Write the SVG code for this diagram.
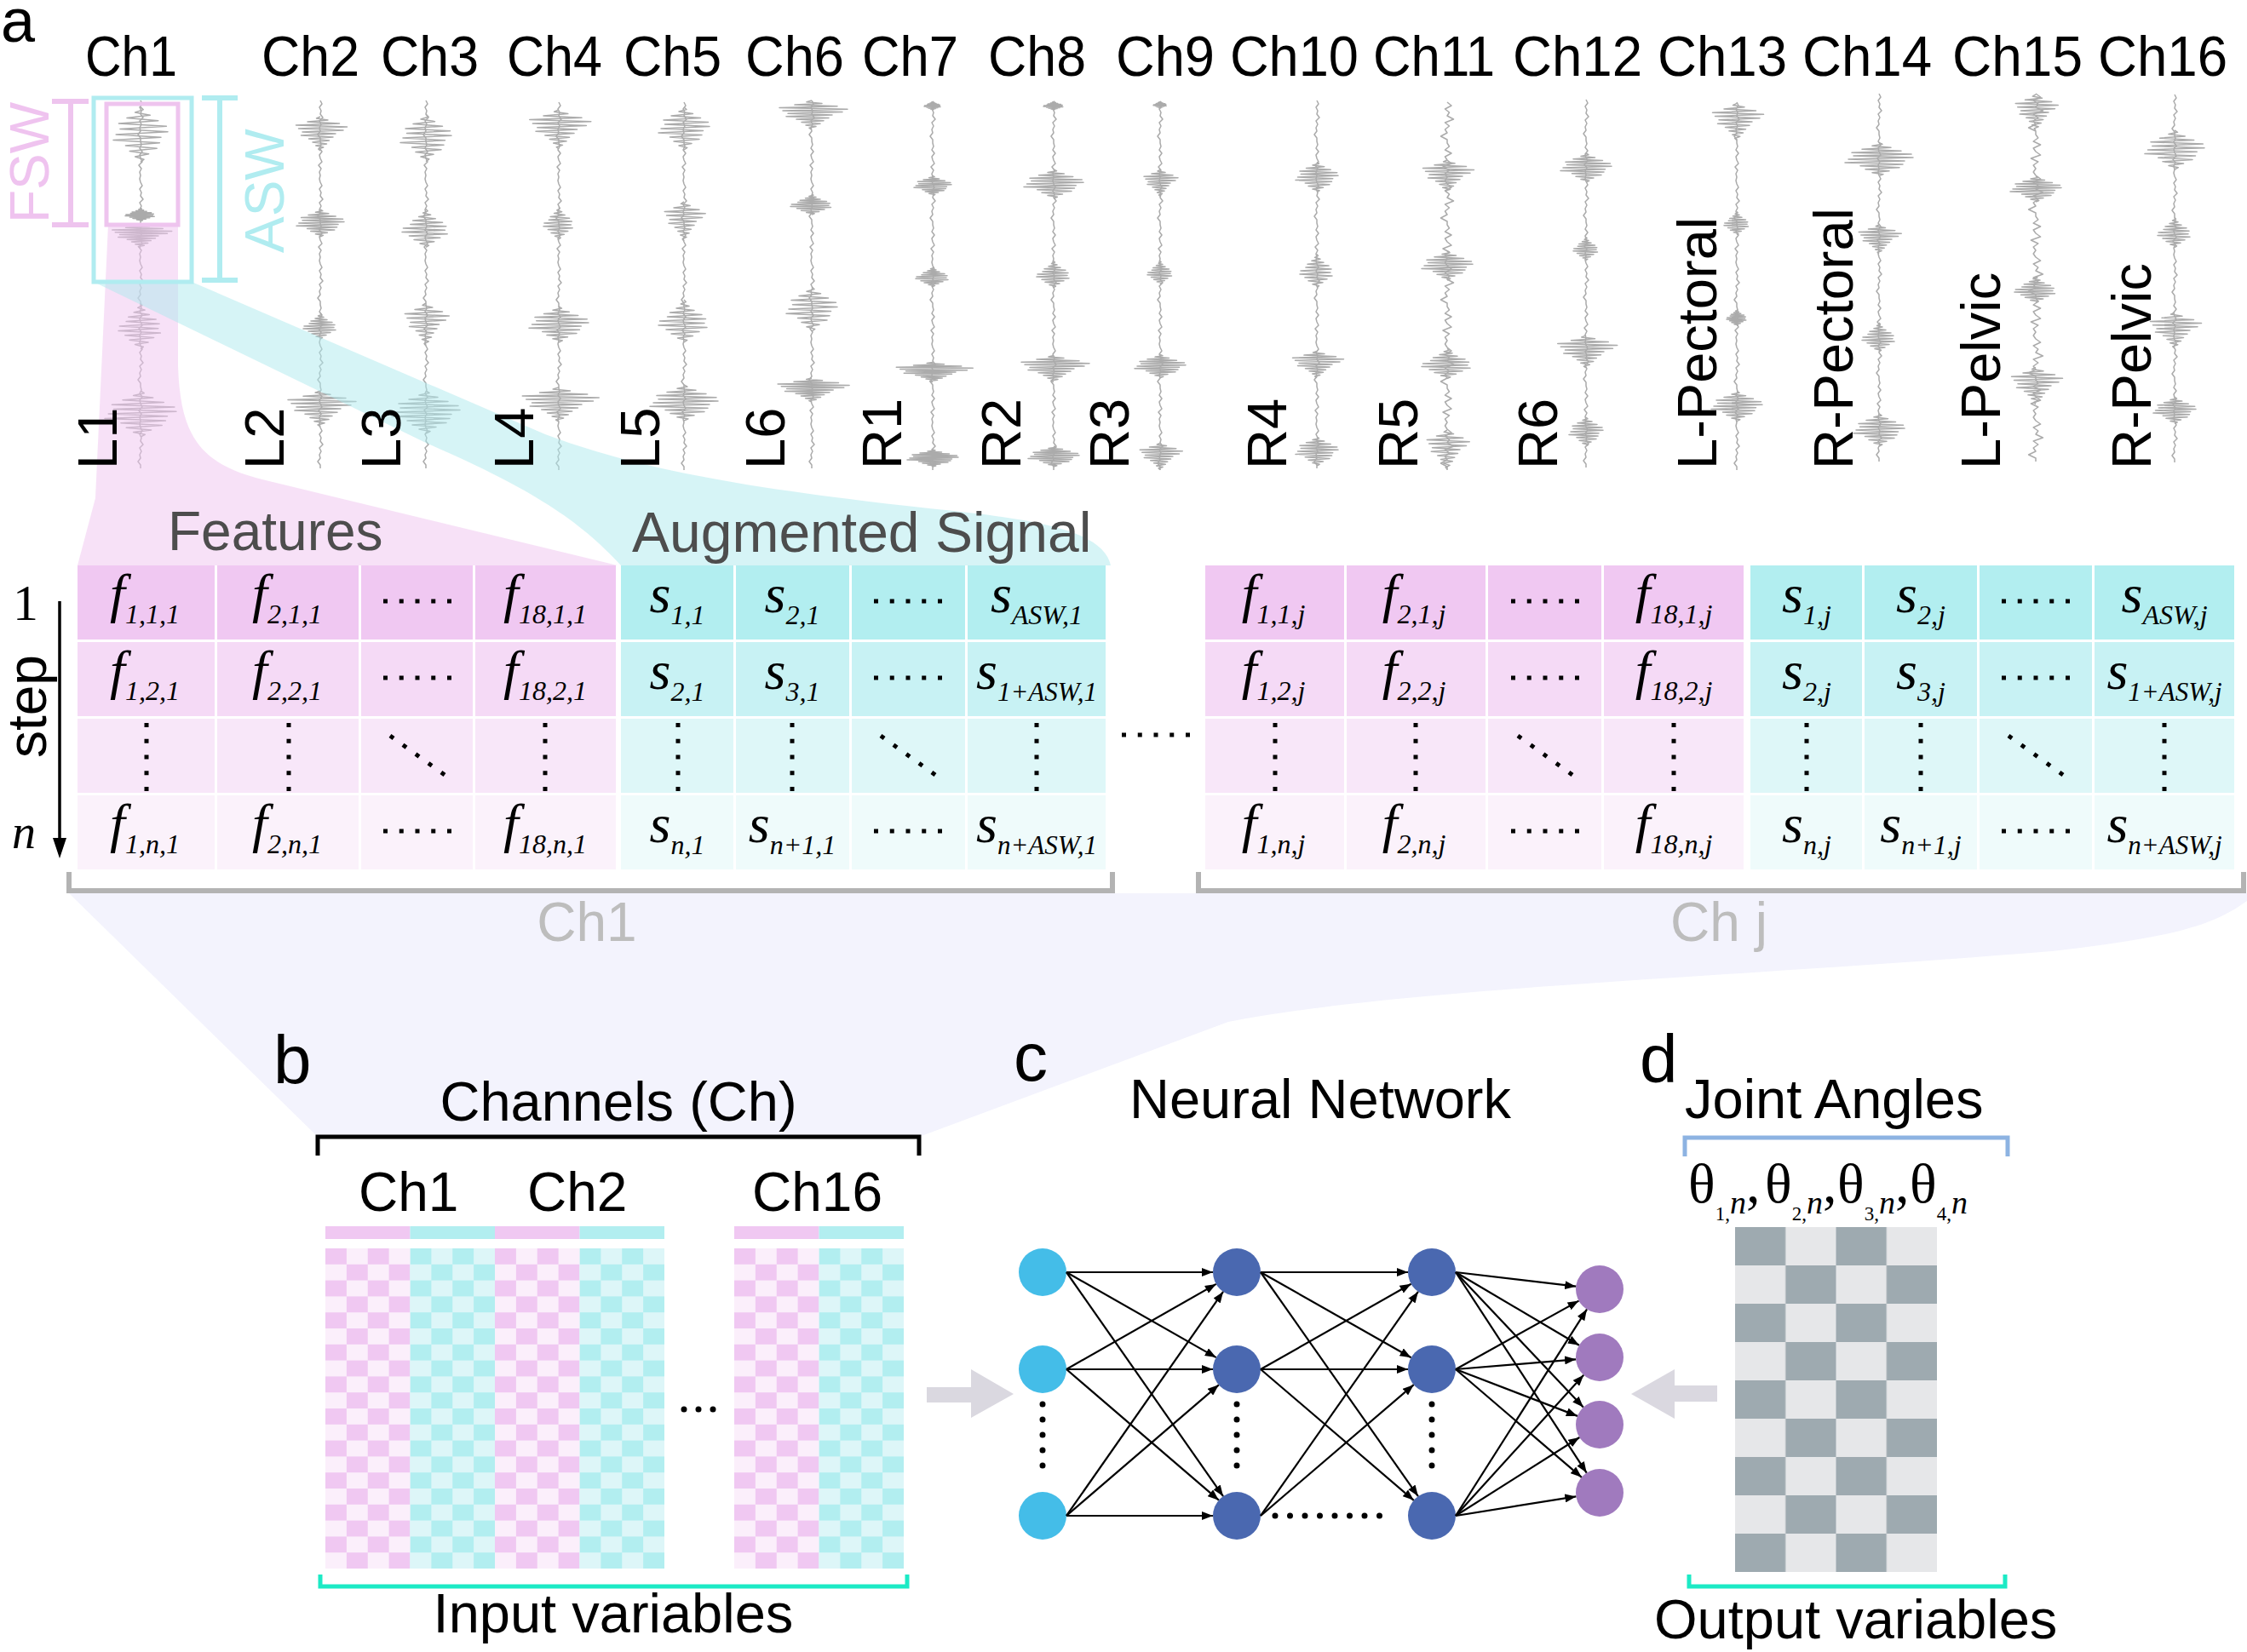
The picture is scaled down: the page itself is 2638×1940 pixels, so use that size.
<svg xmlns="http://www.w3.org/2000/svg" width="2638" height="1940" viewBox="0 0 2638 1940">
<style>
.t{font-family:"Liberation Sans",Arial,sans-serif;fill:#000}
.ch{font-size:67px}
.rl{font-size:65px}
.pl{font-size:80px}
.hd{font-size:65px}
.w{fill:none;stroke:#ABABAB;stroke-width:1.5;stroke-linejoin:round;vector-effect:non-scaling-stroke}
.m{font-family:"Liberation Serif","Times New Roman",serif;font-style:italic;font-size:64px;fill:#000}
.sb{font-size:32px}
.sl{font-size:31px}
.p1{fill:#F0C8F2}.p2{fill:#F5DAF6}.p3{fill:#F8E7F9}.p4{fill:#FBF2FB}
.c1{fill:#B2EEF0}.c2{fill:#C8F2F4}.c3{fill:#DEF7F8}.c4{fill:#EFFBFB}
.dt{stroke:#000;stroke-width:5;stroke-dasharray:5 13.75;fill:none}
.dd{stroke:#000;stroke-width:5;stroke-dasharray:5 13.45;fill:none}
.sep{stroke:#fff;stroke-width:3;fill:none}
.e{stroke:#000;stroke-width:2.2;fill:none;marker-end:url(#ah)}
.nd{stroke:#000;stroke-width:7;stroke-linecap:round;fill:none}
.br{fill:none;stroke-width:5}
.th{font-family:"Liberation Serif","Times New Roman",serif;font-size:66px;fill:#000}
</style>
<defs>
<marker id="ah" markerUnits="userSpaceOnUse" markerWidth="14" markerHeight="10" refX="13" refY="5" orient="auto"><path d="M0,0 L13,5 L0,10 Z" fill="#000"/></marker>
<path id="nz" class="w" d="M0,0 l2,4 -3,4 2,4 -1,4 3,4 -4,4 2,4 -2,4 1,4 -3,4 3,4 0,4 1,4 -2,4 3,4 -3,4 1,4 2,4 -4,4 3,4 -2,4 1,4 -1,4 1,4 2,4 -3,4 2,4 -1,4 3,4 -4,4 2,4 -2,4 1,4 -3,4 3,4 0,4 1,4 -2,4 3,4 -3,4 1,4 2,4 -4,4 3,4 -2,4 1,4 -1,4 1,4 2,4 -3,4 2,4 -1,4 3,4 -4,4 2,4 -2,4 1,4 -3,4 3,4 0,4 1,4 -2,4 3,4 -3,4 1,4 2,4 -4,4 3,4 -2,4 1,4 -1,4 1,4 2,4 -3,4 2,4 -1,4 3,4 -4,4 2,4 -2,4 1,4 -3,4 3,4 0,4 1,4 -2,4 3,4 -3,4 1,4 2,4 -4,4 3,4 -2,4 1,4 -1,4 1,4 2,4 -3,4 2,4 -1,4 3,4 -4,4 2,4 -2,4 1,4 -3,4 3,4 0,4"/>
<path id="bA" class="w" d="M0,-40 L4,-36 -8,-32 14,-28 -20,-24 26,-20 -32,-16 38,-12 -30,-8 40,-4 -36,0 30,4 -40,8 28,12 -22,16 24,20 -16,24 12,28 -8,32 5,36 0,40"/>
<path id="bB" class="w" d="M0,-40 L-6,-36 12,-32 -20,-28 30,-24 -38,-20 42,-16 -34,-12 36,-8 -28,-4 24,0 -30,4 20,8 -18,12 14,16 -12,20 10,24 -7,28 5,32 -3,36 0,40"/>
<path id="bC" class="w" d="M0,-40 L3,-36 -5,-32 8,-28 -12,-24 16,-20 -22,-16 28,-12 -26,-8 34,-4 -38,0 32,4 -40,8 36,12 -28,16 24,20 -20,24 14,28 -10,32 5,36 0,40"/>
<pattern id="pkA" patternUnits="userSpaceOnUse" x="382" y="1466" width="49.75" height="37.6"><rect width="49.75" height="37.6" fill="#FBEFFB"/><rect width="24.875" height="18.8" fill="#F0C8F2"/><rect x="24.875" y="18.8" width="24.875" height="18.8" fill="#F0C8F2"/></pattern>
<pattern id="cyA" patternUnits="userSpaceOnUse" x="382" y="1466" width="49.75" height="37.6"><rect width="49.75" height="37.6" fill="#DDF6F8"/><rect width="24.875" height="18.8" fill="#B2EEF0"/><rect x="24.875" y="18.8" width="24.875" height="18.8" fill="#B2EEF0"/></pattern>
<pattern id="pkB" patternUnits="userSpaceOnUse" x="862" y="1466" width="49.75" height="37.6"><rect width="49.75" height="37.6" fill="#FBEFFB"/><rect width="24.875" height="18.8" fill="#F0C8F2"/><rect x="24.875" y="18.8" width="24.875" height="18.8" fill="#F0C8F2"/></pattern>
<pattern id="cyB" patternUnits="userSpaceOnUse" x="862" y="1466" width="49.75" height="37.6"><rect width="49.75" height="37.6" fill="#DDF6F8"/><rect width="24.875" height="18.8" fill="#B2EEF0"/><rect x="24.875" y="18.8" width="24.875" height="18.8" fill="#B2EEF0"/></pattern>
<pattern id="gy" patternUnits="userSpaceOnUse" x="2037" y="1441" width="118.5" height="90"><rect width="118.5" height="90" fill="#E6E7E9"/><rect width="59.25" height="45" fill="#9EAAB0"/><rect x="59.25" y="45" width="59.25" height="45" fill="#9EAAB0"/></pattern>
</defs>
<rect width="2638" height="1940" fill="#fff"/>

<!-- lavender funnel -->
<path id="funnel-lavender" d="M81,1049 L2638,1049 L2638,1058 C2600,1085 2560,1100 2409,1117 C2000,1150 1650,1160 1442,1200 L1079,1335 L373,1335 Z" fill="#F3F3FD"/>

<!-- waveforms -->
<g id="waveforms">
<g id="w1"><use href="#nz" transform="translate(165,118)"/><use href="#bA" transform="translate(165,158) scale(.8,.81)"/><use href="#bC" transform="translate(165,252) scale(.45,.19)"/><use href="#bB" transform="translate(165,277) scale(.875,.35)"/><use href="#bC" transform="translate(165,383) scale(.65,.675)"/><use href="#bA" transform="translate(165,486) scale(1.05,.675)"/></g>
<g id="w2"><use href="#nz" transform="translate(376,118)"/><use href="#bB" transform="translate(376,157) scale(.75,.5)"/><use href="#bA" transform="translate(376,262) scale(.7,.4)"/><use href="#bC" transform="translate(376,383) scale(.5,.375)"/><use href="#bB" transform="translate(376,480) scale(1,.525)"/></g>
<g id="w3"><use href="#nz" transform="translate(500,118)"/><use href="#bA" transform="translate(500,162) scale(.75,.69)"/><use href="#bC" transform="translate(500,268) scale(.7,.56)"/><use href="#bB" transform="translate(500,381) scale(.65,.625)"/><use href="#bA" transform="translate(500,484) scale(1,.625)"/></g>
<g id="w4"><use href="#nz" transform="translate(656,120)"/><use href="#bB" transform="translate(656,152) scale(.9,.575)"/><use href="#bC" transform="translate(656,262) scale(.45,.475)"/><use href="#bA" transform="translate(656,381) scale(.875,.525)"/><use href="#bB" transform="translate(656,475) scale(1.125,.5)"/></g>
<g id="w5"><use href="#nz" transform="translate(803,120)"/><use href="#bA" transform="translate(803,151) scale(.75,.625)"/><use href="#bB" transform="translate(803,260) scale(.6,.575)"/><use href="#bC" transform="translate(803,377) scale(.75,.625)"/><use href="#bA" transform="translate(803,473) scale(1,.525)"/></g>
<g id="w6"><use href="#nz" transform="translate(953,118)"/><use href="#bB" transform="translate(953,135) scale(1,.425)"/><use href="#bC" transform="translate(953,240) scale(.625,.3)"/><use href="#bA" transform="translate(953,363) scale(.75,.65)"/><use href="#bB" transform="translate(953,458) scale(1.05,.35)"/></g>
<g id="w7"><use href="#nz" transform="translate(1095,120)"/><use href="#bC" transform="translate(1095,124) scale(.25,.125)"/><use href="#bA" transform="translate(1095,218) scale(.55,.29)"/><use href="#bC" transform="translate(1095,325) scale(.5,.29)"/><use href="#bB" transform="translate(1095,437) scale(1.125,.29)"/><use href="#bA" transform="translate(1095,538) scale(.75,.25)"/></g>
<g id="w8"><use href="#nz" transform="translate(1237,120)"/><use href="#bC" transform="translate(1237,124) scale(.3,.125)"/><use href="#bA" transform="translate(1237,216) scale(.875,.425)"/><use href="#bC" transform="translate(1237,322) scale(.5,.39)"/><use href="#bB" transform="translate(1237,433) scale(1,.39)"/><use href="#bA" transform="translate(1237,536) scale(.75,.3)"/></g>
<g id="w9"><use href="#nz" transform="translate(1362,120)"/><use href="#bC" transform="translate(1362,123) scale(.2,.1)"/><use href="#bB" transform="translate(1362,215) scale(.5,.39)"/><use href="#bC" transform="translate(1362,320) scale(.375,.34)"/><use href="#bA" transform="translate(1362,430) scale(.75,.34)"/><use href="#bB" transform="translate(1362,536) scale(.625,.39)"/></g>
<g id="w10"><use href="#nz" transform="translate(1546,118)"/><use href="#bA" transform="translate(1546,208) scale(.625,.44)"/><use href="#bC" transform="translate(1546,318) scale(.5,.49)"/><use href="#bB" transform="translate(1546,428) scale(.75,.39)"/><use href="#bA" transform="translate(1546,530) scale(.625,.425)"/></g>
<g id="w11"><use href="#nz" transform="translate(1699,120) scale(2.5,1)"/><use href="#bB" transform="translate(1699,207) scale(.75,.475)"/><use href="#bA" transform="translate(1699,312) scale(.75,.425)"/><use href="#bC" transform="translate(1699,427) scale(.75,.44)"/><use href="#bB" transform="translate(1699,528) scale(.625,.575)"/></g>
<g id="w12"><use href="#nz" transform="translate(1862,117)"/><use href="#bA" transform="translate(1862,197) scale(.75,.425)"/><use href="#bC" transform="translate(1862,292) scale(.375,.34)"/><use href="#bB" transform="translate(1862,413) scale(.875,.475)"/><use href="#bA" transform="translate(1862,507) scale(.5,.425)"/></g>
<g id="w13"><use href="#nz" transform="translate(2039,120)"/><use href="#bB" transform="translate(2039,143) scale(.75,.54)"/><use href="#bC" transform="translate(2039,262) scale(.375,.34)"/><use href="#bC" transform="translate(2039,373) scale(.3,.24)"/><use href="#bA" transform="translate(2039,477) scale(.75,.44)"/></g>
<g id="w14"><use href="#nz" transform="translate(2206,110)"/><use href="#bA" transform="translate(2206,187) scale(1,.49)"/><use href="#bB" transform="translate(2206,281) scale(.625,.425)"/><use href="#bC" transform="translate(2206,396) scale(.5,.425)"/><use href="#bA" transform="translate(2206,505) scale(.75,.475)"/></g>
<g id="w15"><use href="#nz" transform="translate(2390,110) scale(2.8,1)"/><use href="#bB" transform="translate(2390,132) scale(.625,.525)"/><use href="#bA" transform="translate(2390,222) scale(.75,.375)"/><use href="#bC" transform="translate(2390,340) scale(.625,.39)"/><use href="#bB" transform="translate(2390,453) scale(.75,.54)"/></g>
<g id="w16"><use href="#nz" transform="translate(2553,111)"/><use href="#bA" transform="translate(2553,176) scale(.875,.575)"/><use href="#bC" transform="translate(2553,273) scale(.5,.44)"/><use href="#bB" transform="translate(2553,388) scale(.75,.525)"/><use href="#bA" transform="translate(2553,482) scale(.625,.39)"/></g>
</g>

<!-- pink and cyan funnels -->
<path id="funnel-pink" d="M127,264 L209,264 L209,430 C212,520 240,548 320,566 L725,664 L91,664 L112,585 Z" fill="#F0C4F0" fill-opacity="0.5"/>
<path id="funnel-cyan" d="M110,331 L225,331 L640,510 C760,555 900,577 1120,600 C1230,612 1296,626 1304,664 L729,664 C680,610 620,572 500,520 Z" fill="#ADE9EE" fill-opacity="0.5"/>

<!-- windows -->
<g id="windows">
<rect x="110" y="115" width="115" height="216" fill="none" stroke="#B0ECF0" stroke-width="5"/>
<rect x="125" y="122" width="84" height="142" fill="none" stroke="#EEC4EE" stroke-width="5"/>
<path d="M61,119 L104,119 M83,119 L83,264 M61,264 L104,264" stroke="#EEC4EE" stroke-width="6" fill="none"/>
<path d="M237,115 L279,115 M258,115 L258,329 M237,329 L279,329" stroke="#B0ECF0" stroke-width="6" fill="none"/>
<text class="t" font-size="64" style="fill:#EFC3EF" transform="translate(57,262) rotate(-90)">FSW</text>
<text class="t" font-size="64" style="fill:#B0ECF0" transform="translate(333,297) rotate(-90)">ASW</text>
</g>

<text class="t" font-size="72" x="1" y="49">a</text>
<g id="ch-labels" class="t ch">
<text x="100" y="89" textLength="108" lengthAdjust="spacingAndGlyphs">Ch1</text>
<text x="307" y="89" textLength="115" lengthAdjust="spacingAndGlyphs">Ch2</text>
<text x="447" y="89" textLength="115" lengthAdjust="spacingAndGlyphs">Ch3</text>
<text x="595" y="89" textLength="112" lengthAdjust="spacingAndGlyphs">Ch4</text>
<text x="732" y="89" textLength="115" lengthAdjust="spacingAndGlyphs">Ch5</text>
<text x="875" y="89" textLength="116" lengthAdjust="spacingAndGlyphs">Ch6</text>
<text x="1012" y="89" textLength="113" lengthAdjust="spacingAndGlyphs">Ch7</text>
<text x="1160" y="89" textLength="115" lengthAdjust="spacingAndGlyphs">Ch8</text>
<text x="1310" y="89" textLength="116" lengthAdjust="spacingAndGlyphs">Ch9</text>
<text x="1444" y="89" textLength="151" lengthAdjust="spacingAndGlyphs">Ch10</text>
<text x="1612" y="89" textLength="143" lengthAdjust="spacingAndGlyphs">Ch11</text>
<text x="1776" y="89" textLength="152" lengthAdjust="spacingAndGlyphs">Ch12</text>
<text x="1946" y="89" textLength="152" lengthAdjust="spacingAndGlyphs">Ch13</text>
<text x="2116" y="89" textLength="152" lengthAdjust="spacingAndGlyphs">Ch14</text>
<text x="2292" y="89" textLength="153" lengthAdjust="spacingAndGlyphs">Ch15</text>
<text x="2463" y="89" textLength="152" lengthAdjust="spacingAndGlyphs">Ch16</text>
</g>
<g id="muscle-labels" class="t rl">
<text transform="translate(137,551) rotate(-90)">L1</text>
<text transform="translate(333,551) rotate(-90)">L2</text>
<text transform="translate(470,551) rotate(-90)">L3</text>
<text transform="translate(626,551) rotate(-90)">L4</text>
<text transform="translate(774,551) rotate(-90)">L5</text>
<text transform="translate(921,551) rotate(-90)">L6</text>
<text transform="translate(1058,551) rotate(-90)">R1</text>
<text transform="translate(1198,551) rotate(-90)">R2</text>
<text transform="translate(1325,551) rotate(-90)">R3</text>
<text transform="translate(1510,551) rotate(-90)">R4</text>
<text transform="translate(1664,551) rotate(-90)">R5</text>
<text transform="translate(1828,551) rotate(-90)">R6</text>
<text transform="translate(2015,551) rotate(-90)">L-Pectoral</text>
<text transform="translate(2175,551) rotate(-90)">R-Pectoral</text>
<text transform="translate(2348,551) rotate(-90)">L-Pelvic</text>
<text transform="translate(2525,551) rotate(-90)">R-Pelvic</text>
</g>

<text class="t" font-size="64" style="fill:#4D4D4D" x="197" y="646">Features</text>
<text class="t" font-size="66" style="fill:#4D4D4D" x="742" y="648">Augmented Signal</text>

<!-- step axis -->
<g id="step-axis">
<text x="30" y="728" text-anchor="middle" font-family="Liberation Serif, serif" font-size="60">1</text>
<text x="28" y="996" text-anchor="middle" class="m" style="font-size:56px">n</text>
<text class="t" font-size="64" transform="translate(54,890) rotate(-90)">step</text>
<line x1="70" y1="706" x2="70" y2="988" stroke="#000" stroke-width="3.5"/>
<polygon points="62,984 78,984 70,1008" fill="#000"/>
</g>

<!-- table Ch1 -->
<g id="table-ch1">
<rect class="p1" x="91" y="664" width="632" height="87"/><rect class="p2" x="91" y="754" width="632" height="87"/><rect class="p3" x="91" y="844" width="632" height="87"/><rect class="p4" x="91" y="934" width="632" height="87"/>
<rect class="c1" x="729" y="664" width="569" height="87"/><rect class="c2" x="729" y="754" width="569" height="87"/><rect class="c3" x="729" y="844" width="569" height="87"/><rect class="c4" x="729" y="934" width="569" height="87"/>
<path class="sep" d="M253.5,664 V1021 M422.5,664 V1021 M556.5,664 V1021 M862.5,664 V1021 M998.5,664 V1021 M1134.5,664 V1021"/>
<g class="m" text-anchor="middle">
<text x="170" y="718">f<tspan class="sb" dy="14">1,1,1</tspan></text>
<text x="337" y="718">f<tspan class="sb" dy="14">2,1,1</tspan></text>
<text x="640" y="718">f<tspan class="sb" dy="14">18,1,1</tspan></text>
<text x="795" y="719">s<tspan class="sb" dy="14">1,1</tspan></text>
<text x="930" y="719">s<tspan class="sb" dy="14">2,1</tspan></text>
<text x="1217" y="719">s<tspan class="sb" dy="14">ASW,1</tspan></text>
<text x="170" y="808">f<tspan class="sb" dy="14">1,2,1</tspan></text>
<text x="337" y="808">f<tspan class="sb" dy="14">2,2,1</tspan></text>
<text x="640" y="808">f<tspan class="sb" dy="14">18,2,1</tspan></text>
<text x="795" y="809">s<tspan class="sb" dy="14">2,1</tspan></text>
<text x="930" y="809">s<tspan class="sb" dy="14">3,1</tspan></text>
<text x="1217" y="809">s<tspan class="sl" dy="14">1+ASW,1</tspan></text>
<text x="170" y="988">f<tspan class="sb" dy="14">1,n,1</tspan></text>
<text x="337" y="988">f<tspan class="sb" dy="14">2,n,1</tspan></text>
<text x="640" y="988">f<tspan class="sb" dy="14">18,n,1</tspan></text>
<text x="795" y="989">s<tspan class="sb" dy="14">n,1</tspan></text>
<text x="930" y="989">s<tspan class="sb" dy="14">n+1,1</tspan></text>
<text x="1217" y="989">s<tspan class="sl" dy="14">n+ASW,1</tspan></text>
</g>
<path class="dt" d="M450,706 H530 M450,796 H530 M450,976 H530 M1026,706 H1106 M1026,796 H1106 M1026,976 H1106"/>
<path class="dt" d="M172,849 V929 M339,849 V929 M640,849 V929 M796,849 V929 M930,849 V929 M1217,849 V929"/>
<path class="dd" d="M458,864 L522,910 M1034,864 L1098,910"/>
</g>

<path class="dt" d="M1317,863 H1397"/>

<!-- table Chj -->
<g id="table-chj">
<rect class="p1" x="1415" y="664" width="632" height="87"/><rect class="p2" x="1415" y="754" width="632" height="87"/><rect class="p3" x="1415" y="844" width="632" height="87"/><rect class="p4" x="1415" y="934" width="632" height="87"/>
<rect class="c1" x="2055" y="664" width="568" height="87"/><rect class="c2" x="2055" y="754" width="568" height="87"/><rect class="c3" x="2055" y="844" width="568" height="87"/><rect class="c4" x="2055" y="934" width="568" height="87"/>
<path class="sep" d="M1579.5,664 V1021 M1745.5,664 V1021 M1881.5,664 V1021 M2187.5,664 V1021 M2322.5,664 V1021 M2457.5,664 V1021"/>
<g class="m" text-anchor="middle">
<text x="1495" y="718">f<tspan class="sb" dy="14">1,1,j</tspan></text>
<text x="1660" y="718">f<tspan class="sb" dy="14">2,1,j</tspan></text>
<text x="1965" y="718">f<tspan class="sb" dy="14">18,1,j</tspan></text>
<text x="2121" y="719">s<tspan class="sb" dy="14">1,j</tspan></text>
<text x="2255" y="719">s<tspan class="sb" dy="14">2,j</tspan></text>
<text x="2541" y="719">s<tspan class="sb" dy="14">ASW,j</tspan></text>
<text x="1495" y="808">f<tspan class="sb" dy="14">1,2,j</tspan></text>
<text x="1660" y="808">f<tspan class="sb" dy="14">2,2,j</tspan></text>
<text x="1965" y="808">f<tspan class="sb" dy="14">18,2,j</tspan></text>
<text x="2121" y="809">s<tspan class="sb" dy="14">2,j</tspan></text>
<text x="2255" y="809">s<tspan class="sb" dy="14">3,j</tspan></text>
<text x="2541" y="809">s<tspan class="sl" dy="14">1+ASW,j</tspan></text>
<text x="1495" y="988">f<tspan class="sb" dy="14">1,n,j</tspan></text>
<text x="1660" y="988">f<tspan class="sb" dy="14">2,n,j</tspan></text>
<text x="1965" y="988">f<tspan class="sb" dy="14">18,n,j</tspan></text>
<text x="2121" y="989">s<tspan class="sb" dy="14">n,j</tspan></text>
<text x="2255" y="989">s<tspan class="sb" dy="14">n+1,j</tspan></text>
<text x="2541" y="989">s<tspan class="sl" dy="14">n+ASW,j</tspan></text>
</g>
<path class="dt" d="M1774,706 H1854 M1774,796 H1854 M1774,976 H1854 M2350,706 H2430 M2350,796 H2430 M2350,976 H2430"/>
<path class="dt" d="M1497,849 V929 M1662,849 V929 M1965,849 V929 M2121,849 V929 M2255,849 V929 M2541,849 V929"/>
<path class="dd" d="M1782,864 L1846,910 M2358,864 L2422,910"/>
</g>

<!-- table brackets -->
<g id="table-brackets">
<path d="M81,1024 L81,1046 L1306,1046 L1306,1024" fill="none" stroke="#B3B3B3" stroke-width="6"/>
<path d="M1407,1024 L1407,1046 L2634,1046 L2634,1024" fill="none" stroke="#B3B3B3" stroke-width="6"/>
<text class="t" font-size="64" style="fill:#BDBDBD" x="689" y="1105" text-anchor="middle">Ch1</text>
<text class="t" font-size="64" style="fill:#BDBDBD" x="2018" y="1105" text-anchor="middle">Ch j</text>
</g>

<!-- panel b -->
<g id="panel-b">
<text class="t pl" x="321" y="1272">b</text>
<text class="t hd" x="726" y="1316" text-anchor="middle">Channels (Ch)</text>
<path class="br" d="M373,1357 L373,1335 L1079,1335 L1079,1357" stroke="#000"/>
<text class="t" font-size="64" x="421" y="1422">Ch1</text>
<text class="t" font-size="64" x="619" y="1422">Ch2</text>
<text class="t" font-size="64" x="883" y="1422">Ch16</text>
<rect x="382" y="1440" width="99.5" height="15" fill="#F0C8F2"/><rect x="481.5" y="1440" width="99.5" height="15" fill="#B2EEF0"/><rect x="581" y="1440" width="99.5" height="15" fill="#F0C8F2"/><rect x="680.5" y="1440" width="99.5" height="15" fill="#B2EEF0"/>
<rect x="862" y="1440" width="99.5" height="15" fill="#F0C8F2"/><rect x="961.5" y="1440" width="99.5" height="15" fill="#B2EEF0"/>
<rect x="382" y="1466" width="99.5" height="376" fill="url(#pkA)"/><rect x="481.5" y="1466" width="99.5" height="376" fill="url(#cyA)"/><rect x="581" y="1466" width="99.5" height="376" fill="url(#pkA)"/><rect x="680.5" y="1466" width="99.5" height="376" fill="url(#cyA)"/>
<rect x="862" y="1466" width="99.5" height="376" fill="url(#pkB)"/><rect x="961.5" y="1466" width="99.5" height="376" fill="url(#cyB)"/>
<circle cx="803" cy="1655" r="3.5"/><circle cx="820" cy="1655" r="3.5"/><circle cx="837" cy="1655" r="3.5"/>
<path class="br" d="M376,1849 L376,1863 L1065,1863 L1065,1849" stroke="#1CEAC5"/>
<text class="t hd" x="720" y="1917" text-anchor="middle">Input variables</text>
</g>

<polygon id="arrow-bc" points="1088,1629 1140,1629 1140,1608 1190,1637 1140,1665 1140,1647 1088,1647" fill="#DAD8E0"/>
<polygon id="arrow-dc" points="2016,1627 1966,1627 1966,1608 1915,1637 1966,1666 1966,1646 2016,1646" fill="#DAD8E0"/>

<!-- panel c -->
<g id="panel-c">
<text class="t pl" x="1190" y="1269">c</text>
<text class="t hd" x="1550" y="1313" text-anchor="middle">Neural Network</text>
<g id="nn-nodes">
<circle cx="1224" cy="1494" r="28" fill="#44BDE8"/><circle cx="1224" cy="1608" r="28" fill="#44BDE8"/><circle cx="1224" cy="1780" r="28" fill="#44BDE8"/>
<circle cx="1452" cy="1494" r="28" fill="#4A68B0"/><circle cx="1452" cy="1608" r="28" fill="#4A68B0"/><circle cx="1452" cy="1780" r="28" fill="#4A68B0"/>
<circle cx="1681" cy="1494" r="28" fill="#4A68B0"/><circle cx="1681" cy="1608" r="28" fill="#4A68B0"/><circle cx="1681" cy="1780" r="28" fill="#4A68B0"/>
<circle cx="1878" cy="1514" r="28" fill="#A07ABE"/><circle cx="1878" cy="1594" r="28" fill="#A07ABE"/><circle cx="1878" cy="1673" r="28" fill="#A07ABE"/><circle cx="1878" cy="1753" r="28" fill="#A07ABE"/>
</g>
<g id="nn-connectors">
<line class="e" x1="1252" y1="1494" x2="1424" y2="1494"/>
<line class="e" x1="1252" y1="1494" x2="1427.7" y2="1594.1"/>
<line class="e" x1="1252" y1="1494" x2="1436" y2="1757.1"/>
<line class="e" x1="1252" y1="1608" x2="1427.7" y2="1507.9"/>
<line class="e" x1="1252" y1="1608" x2="1424" y2="1608"/>
<line class="e" x1="1252" y1="1608" x2="1430.8" y2="1761.7"/>
<line class="e" x1="1252" y1="1780" x2="1436" y2="1516.9"/>
<line class="e" x1="1252" y1="1780" x2="1430.8" y2="1626.3"/>
<line class="e" x1="1252" y1="1780" x2="1424" y2="1780"/>
<line class="e" x1="1480" y1="1494" x2="1653" y2="1494"/>
<line class="e" x1="1480" y1="1494" x2="1656.6" y2="1594.2"/>
<line class="e" x1="1480" y1="1494" x2="1664.9" y2="1757.1"/>
<line class="e" x1="1480" y1="1608" x2="1656.6" y2="1507.8"/>
<line class="e" x1="1480" y1="1608" x2="1653" y2="1608"/>
<line class="e" x1="1480" y1="1608" x2="1659.7" y2="1761.8"/>
<line class="e" x1="1480" y1="1780" x2="1664.9" y2="1516.9"/>
<line class="e" x1="1480" y1="1780" x2="1659.7" y2="1626.2"/>
<line class="e" x1="1709" y1="1494" x2="1850.2" y2="1510.7"/>
<line class="e" x1="1709" y1="1494" x2="1853.9" y2="1579.7"/>
<line class="e" x1="1709" y1="1494" x2="1858.8" y2="1652.6"/>
<line class="e" x1="1709" y1="1494" x2="1862.7" y2="1729.6"/>
<line class="e" x1="1709" y1="1608" x2="1853.5" y2="1527.6"/>
<line class="e" x1="1709" y1="1608" x2="1850.1" y2="1596.3"/>
<line class="e" x1="1709" y1="1608" x2="1851.9" y2="1662.9"/>
<line class="e" x1="1709" y1="1608" x2="1856.8" y2="1734.8"/>
<line class="e" x1="1709" y1="1780" x2="1863" y2="1537.6"/>
<line class="e" x1="1709" y1="1780" x2="1859.2" y2="1614.7"/>
<line class="e" x1="1709" y1="1780" x2="1854.3" y2="1688"/>
<line class="e" x1="1709" y1="1780" x2="1850.3" y2="1757.4"/>
<path class="nd" stroke-dasharray="0 18" d="M1224,1649 V1739 M1452,1649 V1739 M1681,1649 V1739"/>
<path class="nd" stroke-dasharray="0 17.5" d="M1497,1780 H1637"/>
</g>
</g>

<!-- panel d -->
<g id="panel-d">
<text class="t pl" x="1925" y="1271">d</text>
<text class="t hd" x="1978" y="1313">Joint Angles</text>
<path class="br" d="M1978,1358 L1978,1336 L2357,1336 L2357,1358" stroke="#8DB3E2"/>
<text class="th" x="1982" y="1412">θ<tspan font-size="23" dy="21">1,</tspan><tspan font-size="38" font-style="italic" dy="-8">n</tspan><tspan dy="-13">,</tspan></text>
<text class="th" x="2072" y="1412">θ<tspan font-size="23" dy="21">2,</tspan><tspan font-size="38" font-style="italic" dy="-8">n</tspan><tspan dy="-13">,</tspan></text>
<text class="th" x="2157" y="1412">θ<tspan font-size="23" dy="21">3,</tspan><tspan font-size="38" font-style="italic" dy="-8">n</tspan><tspan dy="-13">,</tspan></text>
<text class="th" x="2242" y="1412">θ<tspan font-size="23" dy="21">4,</tspan><tspan font-size="38" font-style="italic" dy="-8">n</tspan></text>
<rect x="2037" y="1441" width="237" height="405" fill="url(#gy)"/>
<path class="br" d="M1983,1849 L1983,1863 L2354,1863 L2354,1849" stroke="#1CEAC5"/>
<text class="t hd" x="1942" y="1924">Output variables</text>
</g>
</svg>
